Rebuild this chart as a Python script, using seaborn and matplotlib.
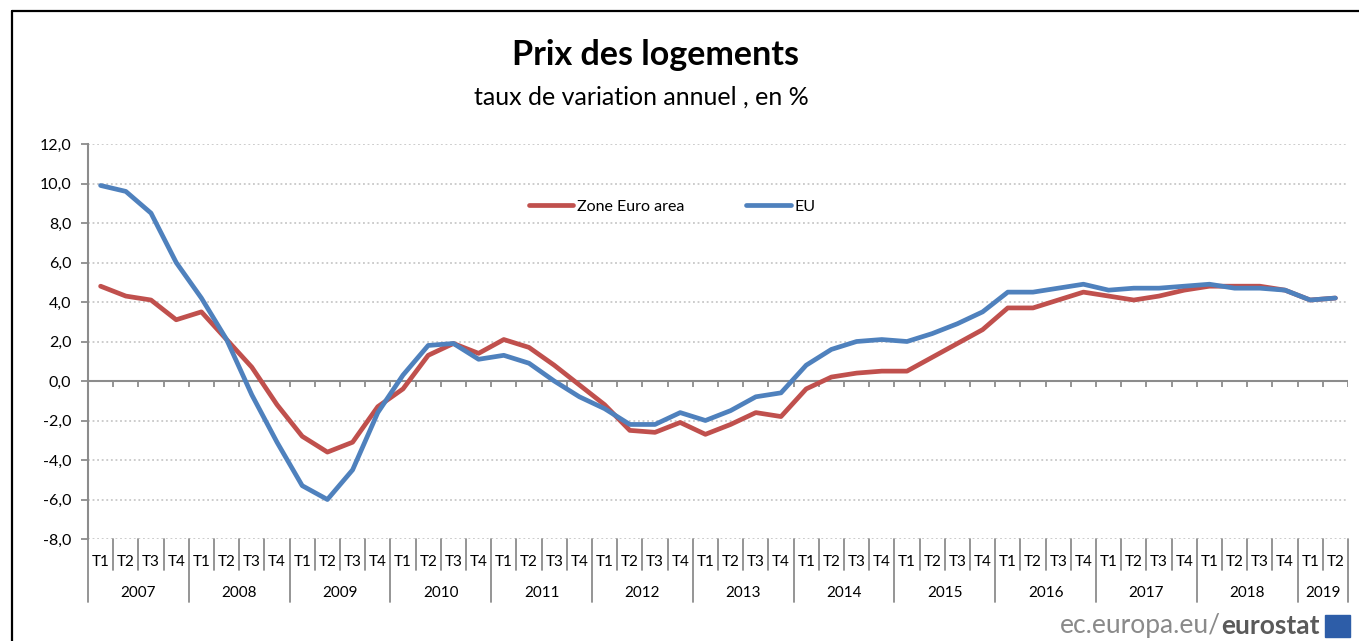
import pandas as pd
import matplotlib.pyplot as plt
import matplotlib.transforms as mtransforms
from matplotlib.lines import Line2D
from matplotlib.patches import Rectangle
import seaborn as sns

# === Data ===
years = ["2007", "2008", "2009", "2010", "2011", "2012", "2013",
         "2014", "2015", "2016", "2017", "2018", "2019"]
quarters = ["T1", "T2", "T3", "T4"]

euro_area = [4.8, 4.3, 4.1, 3.1,
             3.5, 2.1, 0.7, -1.2,
             -2.8, -3.6, -3.1, -1.3,
             -0.4, 1.3, 1.9, 1.4,
             2.1, 1.7, 0.8, -0.2,
             -1.2, -2.5, -2.6, -2.1,
             -2.7, -2.2, -1.6, -1.8,
             -0.4, 0.2, 0.4, 0.5,
             0.5, 1.2, 1.9, 2.6,
             3.7, 3.7, 4.1, 4.5,
             4.3, 4.1, 4.3, 4.6,
             4.8, 4.8, 4.8, 4.6,
             4.1, 4.2]
eu = [9.9, 9.6, 8.5, 6.0,
      4.2, 2.1, -0.7, -3.1,
      -5.3, -6.0, -4.5, -1.6,
      0.3, 1.8, 1.9, 1.1,
      1.3, 0.9, 0.0, -0.8,
      -1.4, -2.2, -2.2, -1.6,
      -2.0, -1.5, -0.8, -0.6,
      0.8, 1.6, 2.0, 2.1,
      2.0, 2.4, 2.9, 3.5,
      4.5, 4.5, 4.7, 4.9,
      4.6, 4.7, 4.7, 4.8,
      4.9, 4.7, 4.7, 4.6,
      4.1, 4.2]

n = len(eu)
q_labels = [quarters[i % 4] for i in range(n)]

df = pd.DataFrame({
    "pos": list(range(n)) * 2,
    "value": euro_area + eu,
    "series": ["Zone Euro area"] * n + ["EU"] * n,
})

# === Setup ===
sns.set_theme(style="white")
plt.rcParams["font.family"] = ["Lato", "DejaVu Sans"]
plt.rcParams["text.color"] = "black"
plt.rcParams["ytick.labelcolor"] = "black"

W, H = 1359, 641
fig = plt.figure(figsize=(W / 100, H / 100), dpi=100)
ax = fig.add_axes([88 / W, 1 - 539 / H, 1260 / W, 395 / H])

palette = {"Zone Euro area": "#C0504D", "EU": "#4F81BD"}
sns.lineplot(data=df, x="pos", y="value", hue="series", palette=palette,
             linewidth=3.4, ax=ax, legend=False, zorder=3)

ax.set_xlim(-0.5, n - 0.5)
ax.set_ylim(-8, 12)
ax.set_xlabel("")
ax.set_ylabel("")

# grid
for v in range(-8, 13, 2):
    if v != 0:
        ax.axhline(v, color="#BFBFBF", lw=1.1, ls=(0, (1.2, 1.8)), zorder=1)
ax.axhline(0, color="#8C8C8C", lw=1.5, zorder=2)
ax.vlines([i - 0.5 for i in range(1, n + 1)], -0.28, 0, color="#8C8C8C", lw=1.3, zorder=2)

# spines / ticks
for s in ["top", "right", "bottom"]:
    ax.spines[s].set_visible(False)
ax.spines["left"].set_color("#8C8C8C")
ax.spines["left"].set_linewidth(1.5)
ax.set_yticks(range(-8, 13, 2))
ax.set_yticklabels([f"{v:.1f}".replace(".", ",") for v in range(-8, 13, 2)], fontsize=11.5)
ax.tick_params(axis="y", length=5, width=1.3, color="#8C8C8C", labelcolor="black",
               pad=7, left=True, direction="out")
ax.set_xticks([])

# category axis below the plot
trans = mtransforms.blended_transform_factory(ax.transData, fig.transFigure)
y_top = 1 - 539 / H
y_q = 1 - 570 / H
y_year = 1 - 602 / H
for i in range(n + 1):
    b = i - 0.5
    bottom = y_year if (i % 4 == 0 or i == n) else y_q
    ax.add_line(Line2D([b, b], [y_top, bottom], transform=trans, color="#8C8C8C",
                       lw=1.3, clip_on=False))
for i, lab in enumerate(q_labels):
    fig.text(i, 1 - 562 / H, lab, transform=trans, ha="center", va="center", fontsize=11)
for k, yr in enumerate(years):
    start = 4 * k
    end = min(4 * k + 3, n - 1)
    fig.text((start + end) / 2, 1 - 593 / H, yr, transform=trans, ha="center",
             va="center", fontsize=11)

# legend
handles = [Line2D([], [], color=palette[s], lw=3.4, solid_capstyle="round")
           for s in ["Zone Euro area", "EU"]]
fig.legend(handles, ["Zone Euro area", "EU"], loc="center",
           bbox_to_anchor=(672 / W, 1 - 207 / H), ncol=2, frameon=False,
           fontsize=11.5, handlelength=2.8, handletextpad=0.2, columnspacing=3.9,
           labelcolor="black")

# titles
fig.text(655 / W, 1 - 55 / H, "Prix des logements", ha="center", va="center",
         fontsize=24.5, fontweight="bold", color="black")
fig.text(641 / W, 1 - 97 / H, "taux de variation annuel , en %", ha="center",
         va="center", fontsize=18, color="black")

# frame
fig.add_artist(Line2D([12 / W, 12 / W], [0, 1 - 11 / H], transform=fig.transFigure,
                      color="black", lw=1.6))
fig.add_artist(Line2D([12 / W, 1], [1 - 11 / H, 1 - 11 / H], transform=fig.transFigure,
                      color="black", lw=1.6))

# source logo
fig.text(1221 / W, 1 - 626 / H, "ec.europa.eu/", ha="right", va="center",
         fontsize=19, color="#8A8A8A")
fig.text(1221 / W, 1 - 626 / H, "eurostat", ha="left", va="center",
         fontsize=19, fontweight="bold", color="#5A5A5A")
fig.add_artist(Rectangle((1325 / W, 1 - 637 / H), 25 / W, 22 / H,
                         transform=fig.transFigure, color="#2D5DA8"))

fig.savefig("out.png", dpi=100)
plt.close(fig)
